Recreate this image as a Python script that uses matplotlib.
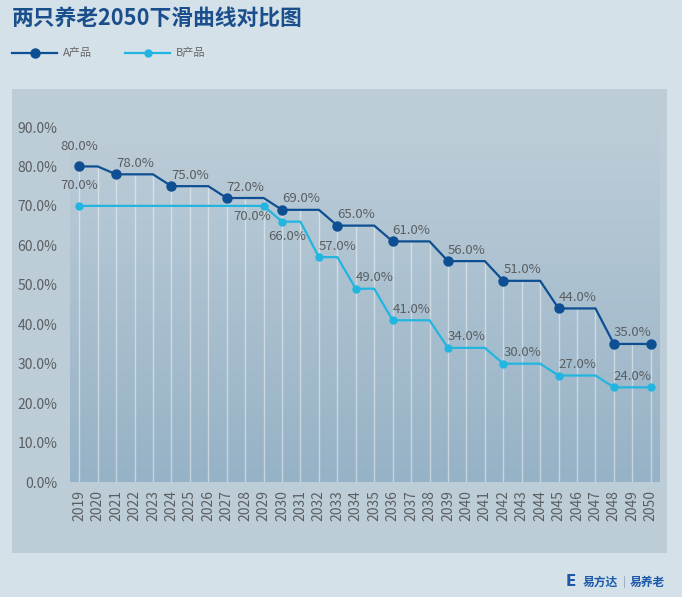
import matplotlib
matplotlib.use("Agg")
from matplotlib import pyplot as plt
from matplotlib.colors import LinearSegmentedColormap
from matplotlib.patches import Rectangle
import numpy as np

plt.rcParams['font.family'] = ['Noto Sans CJK SC', 'DejaVu Sans']

years = list(range(2019, 2051))
a_vals = [80, 80, 78, 78, 78, 75, 75, 75, 72, 72, 72, 69, 69, 69, 65, 65,
          65, 61, 61, 61, 56, 56, 56, 51, 51, 51, 44, 44, 44, 35, 35, 35]
b_vals = [70, 70, 70, 70, 70, 70, 70, 70, 70, 70, 70, 66, 66, 57, 57, 49,
          49, 41, 41, 41, 34, 34, 34, 30, 30, 30, 27, 27, 27, 24, 24, 24]
a_marks = [2019, 2021, 2024, 2027, 2030, 2033, 2036, 2039, 2042, 2045, 2048, 2050]
b_marks = [2019, 2029, 2030, 2032, 2034, 2036, 2039, 2042, 2045, 2048, 2050]
series_names = ['A产品', 'B产品']
title = '两只养老2050下滑曲线对比图'

a_color = '#0d4f92'
b_color = '#22b5e0'
text_gray = '#5a5e62'

fig = plt.figure(figsize=(6.82, 5.97), dpi=100)
fig.patch.set_facecolor('#d4e1e9')

# chart panel
fig.patches.append(Rectangle((12 / 682, 1 - 553 / 597), 655 / 682, 464 / 597,
                             transform=fig.transFigure, facecolor='#bccdd7',
                             edgecolor='none', zorder=-1))

ax = fig.add_axes([70 / 682, 1 - 482 / 597, 590 / 682, 355 / 597])
ax.set_zorder(1)
ax.set_facecolor('none')
x = np.arange(len(years))
a = np.array(a_vals) / 100
b = np.array(b_vals) / 100

# gradient plot area
cmap = LinearSegmentedColormap.from_list('bg', ['#bdcdd8', '#96b2c6'])
grad = np.linspace(0, 1, 256).reshape(-1, 1)
ax.imshow(grad, cmap=cmap, extent=[-0.5, len(years) - 0.5, 0, 0.9],
          aspect='auto', zorder=0, origin='upper')

ax.vlines(x, 0, a, colors='white', alpha=0.45, lw=1, zorder=1)

a_idx = [years.index(y) for y in a_marks]
b_idx = [years.index(y) for y in b_marks]
ax.plot(x, a, color=a_color, lw=1.6, marker='o', markersize=6.5,
        markevery=a_idx, zorder=3)
ax.plot(x, b, color=b_color, lw=1.6, marker='o', markersize=5,
        markevery=b_idx, zorder=3)

# data labels
special = {('A', 2019): (0, 20), ('B', 2019): (0, 20),
           ('B', 2029): (-11, -11), ('B', 2030): (5, -15)}
for name, idx_list, vals in [('A', a_idx, a), ('B', b_idx, b)]:
    for i in idx_list:
        if years[i] == years[-1]:
            continue
        dx, dy = special.get((name, years[i]), (19, 11))
        ax.annotate(f'{vals[i] * 100:.1f}%', (x[i], vals[i]), xytext=(dx, dy),
                    textcoords='offset pixels', ha='center', va='center',
                    fontsize=9.5, color=text_gray, zorder=4)

ax.set_xlim(-0.5, len(years) - 0.5)
ax.set_ylim(0, 0.9)
ax.set_yticks(np.arange(0, 0.91, 0.1))
ax.set_yticklabels([f'{v * 100:.1f}%' for v in np.arange(0, 0.91, 0.1)])
ax.set_xticks(x)
ax.set_xticklabels([str(y) for y in years], rotation=90)
ax.tick_params(axis='both', length=0, labelsize=10, colors=text_gray)
ax.tick_params(axis='y', pad=9)
ax.tick_params(axis='x', pad=6)
for s in ax.spines.values():
    s.set_visible(False)

# title
fig.text(12 / 682, 1 - 18 / 597, title, fontsize=15.7, fontweight='bold',
         color='#1b4f8c', ha='left', va='center')

# legend
for lx0, col, ms, name in [(12, a_color, 6.5, series_names[0]),
                           (125, b_color, 5, series_names[1])]:
    ly = 1 - 53 / 597
    fig.add_artist(plt.Line2D([lx0 / 682, (lx0 + 45) / 682], [ly, ly],
                              color=col, lw=1.6, transform=fig.transFigure))
    fig.add_artist(plt.Line2D([(lx0 + 23) / 682], [ly], color=col, marker='o',
                              markersize=ms, transform=fig.transFigure))
    fig.text((lx0 + 51) / 682, ly, name, fontsize=8, color='#666666',
             ha='left', va='center')

# footer logo
fy = 1 - 582 / 597
fig.text(566 / 682, fy, 'E', fontsize=11, fontweight='bold', color='#1d58a8',
         ha='left', va='center', family=['DejaVu Sans'])
fig.text(583 / 682, fy, '易方达', fontsize=8.5, fontweight='bold',
         color='#1d58a8', ha='left', va='center')
fig.text(623 / 682, fy, '|', fontsize=8, color='#8aa0b4', ha='left', va='center')
fig.text(630 / 682, fy, '易养老', fontsize=8.5, fontweight='bold',
         color='#1d58a8', ha='left', va='center')

fig.savefig('out.png', dpi=100, facecolor=fig.get_facecolor())
